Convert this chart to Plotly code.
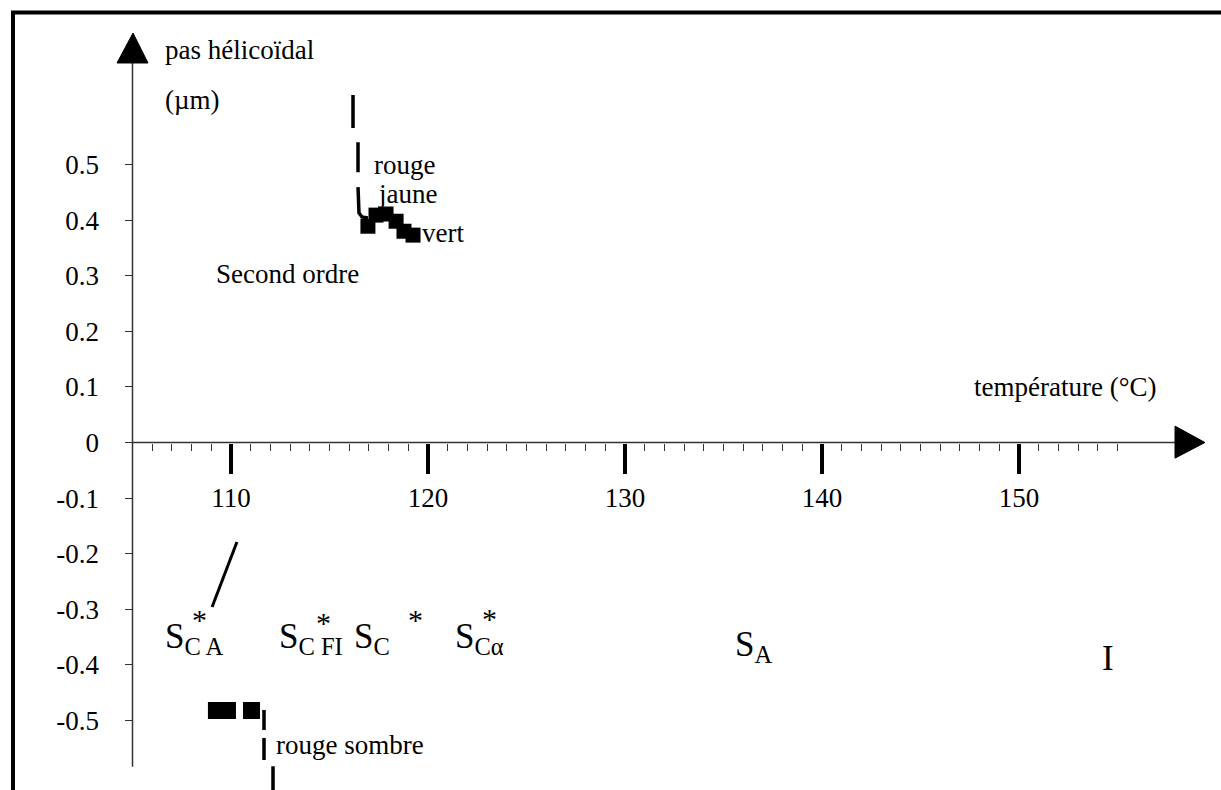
import plotly.graph_objects as go

# ---------------- data ----------------
x_major = [110, 120, 130, 140, 150]
x_major_labels = ["110", "120", "130", "140", "150"]
x_minor = [t for t in range(106, 156) if t not in x_major]
y_ticks = [0.5, 0.4, 0.3, 0.2, 0.1, 0.0, -0.1, -0.2, -0.3, -0.4, -0.5]
y_tick_labels = ["0.5", "0.4", "0.3", "0.2", "0.1", "0", "-0.1", "-0.2", "-0.3", "-0.4", "-0.5"]

# second order (upper) pitch points
upper_T = [116.95, 117.36, 117.87, 118.38, 118.78, 119.24]
upper_p = [0.389, 0.409, 0.411, 0.398, 0.380, 0.373]
# dashed divergence, upper
upper_dash_T = [116.193, 116.193, 116.447, 116.447, 116.497, 116.65, 116.954]
upper_dash_p = [0.625, 0.5656, 0.5405, 0.4595, 0.4128, 0.4056, 0.4038]

# lower pitch points (S*CA)
lower_T = [109.26, 109.82, 111.04]
lower_p = [-0.482, -0.482, -0.482]
lower_dash_T = [111.675, 111.675, 112.132, 112.132]
lower_dash_p = [-0.481, -0.571, -0.582, -0.630]

# slanted line
slant_T = [110.30, 109.04]
slant_p = [-0.179, -0.296]

# axes geometry (data units)
X_RANGE = [98.274, 160.254]
Y_RANGE = [-0.625, 0.7959]
X0 = 105.0
X_END = 157.92
Y_BOTTOM = -0.583
Y_TOP = 0.6826

FONT = "Liberation Serif, Times New Roman, serif"

fig = go.Figure()

fig.add_trace(go.Scatter(x=upper_dash_T, y=upper_dash_p, mode="lines",
                         line=dict(color="black", width=3.5, dash="33px,15px,30px,15px,80px"),
                         hoverinfo="skip"))
fig.add_trace(go.Scatter(x=lower_dash_T, y=lower_dash_p, mode="lines",
                         line=dict(color="black", width=3.5, dash="20px,8px,22px,11px,40px"),
                         hoverinfo="skip"))
fig.add_trace(go.Scatter(x=slant_T, y=slant_p, mode="lines",
                         line=dict(color="black", width=3), hoverinfo="skip"))
fig.add_trace(go.Scatter(x=upper_T, y=upper_p, mode="markers",
                         marker=dict(symbol="square", size=15, color="black",
                                     line=dict(width=0))))
fig.add_trace(go.Scatter(x=lower_T, y=lower_p, mode="markers",
                         marker=dict(symbol="square", size=17, color="black",
                                     line=dict(width=0))))

shapes = []
# axis lines
shapes.append(dict(type="line", xref="x", yref="y", x0=X0, x1=X_END, y0=0, y1=0,
                   line=dict(color="#333", width=1.5)))
shapes.append(dict(type="line", xref="x", yref="y", x0=X0, x1=X0, y0=Y_BOTTOM, y1=Y_TOP,
                   line=dict(color="#333", width=1.5)))
# arrow heads
shapes.append(dict(type="path", xref="x", yref="y",
                   path=f"M {104.213} {Y_TOP} L {105.787} {Y_TOP} L {105.025} {0.7365} Z",
                   fillcolor="black", line=dict(color="black", width=1)))
shapes.append(dict(type="path", xref="x", yref="y",
                   path=f"M {X_END} {0.0295} L {X_END} {-0.0281} L {159.44} {0.0} Z",
                   fillcolor="black", line=dict(color="black", width=1)))
# frame
shapes.append(dict(type="rect", xref="paper", yref="paper",
                   x0=13 / 1221, x1=1.05, y0=-0.05, y1=1 - 12.5 / 790,
                   line=dict(color="black", width=4)))

annotations = []
def txt(s, x, y, size=27, xanchor="left"):
    annotations.append(dict(text=s, x=x, y=y, xref="x", yref="y", showarrow=False,
                            xanchor=xanchor, yanchor="middle",
                            font=dict(family=FONT, size=size, color="black")))

txt("pas hélicoïdal", 106.55, 0.706)
txt("(µm)", 106.55, 0.616)
txt("rouge", 117.16, 0.499)
txt("jaune", 117.36, 0.447)
txt("vert", 119.59, 0.376)
txt("Second ordre", 109.14, 0.303)
txt("température (°C)", 147.61, 0.100)
txt("rouge sombre", 112.18, -0.544)

# phase labels
txt("S<sub>C A</sub>", 106.55, -0.352, size=35)
txt("S<sub>C FI</sub>", 112.34, -0.352, size=35)
txt("S<sub>C</sub>", 116.14, -0.352, size=35)
txt("S<sub>Cα</sub>", 121.27, -0.352, size=35)
txt("S<sub>A</sub>", 135.48, -0.366, size=35)
txt("I", 154.11, -0.388, size=35)
for ax_, ay_ in [(108.38, -0.319), (114.67, -0.323), (119.39, -0.319), (123.10, -0.317)]:
    txt("*", ax_, ay_, size=30, xanchor="center")

fig.update_layout(
    width=1221, height=790,
    margin=dict(l=0, r=0, t=0, b=0),
    paper_bgcolor="white", plot_bgcolor="white",
    showlegend=False,
    shapes=shapes, annotations=annotations,
    xaxis=dict(range=X_RANGE, domain=[0, 1], anchor="free", position=(790 - 442.5) / 790,
               showgrid=False, zeroline=False, showline=False,
               tickmode="array", tickvals=x_major, ticktext=x_major_labels,
               ticks="outside", ticklen=30, tickwidth=4, tickcolor="black",
               ticklabelstandoff=1,
               tickfont=dict(family=FONT, size=27, color="black"),
               minor=dict(tickmode="array", tickvals=x_minor, ticks="outside",
                          ticklen=7, tickwidth=1, tickcolor="#333", showgrid=False)),
    yaxis=dict(range=Y_RANGE, domain=[0, 1], anchor="free", position=132.5 / 1221,
               showgrid=False, zeroline=False, showline=False,
               tickmode="array", tickvals=y_ticks, ticktext=y_tick_labels,
               ticks="outside", ticklen=8, tickwidth=1, tickcolor="#333",
               ticklabelstandoff=20,
               tickfont=dict(family=FONT, size=27, color="black")),
)

fig.write_html("out.html")
